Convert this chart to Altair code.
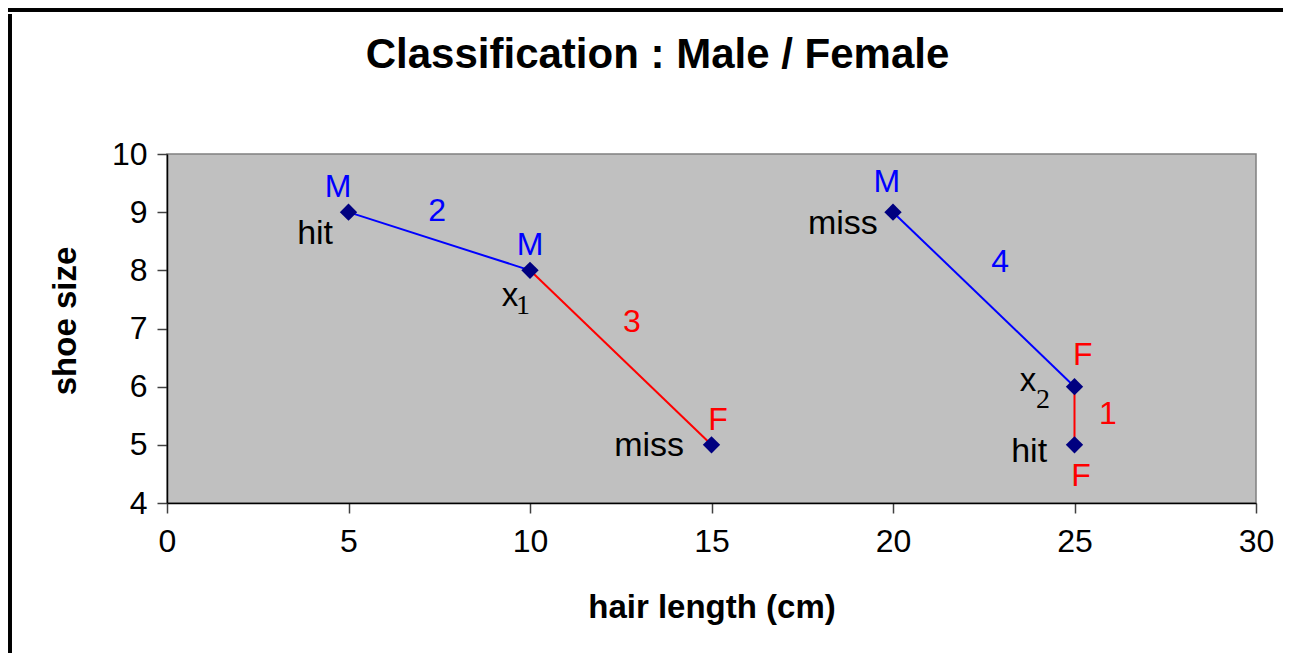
import altair as alt
import pandas as pd

# --- data ---
hair_length = [5, 10, 15, 20, 25, 25]
shoe_size = [9, 8, 5, 9, 6, 5]

seg_x = [5, 10, 20, 25]
seg_y = [9, 8, 9, 6]
seg_x2 = [10, 15, 25, 25]
seg_y2 = [8, 5, 6, 5]
seg_class = ["M", "F", "M", "F"]

class_text = ["M", "M", "F", "M", "F", "F"]
class_x = [4.71, 10.0, 15.18, 19.83, 25.23, 25.18]
class_y = [9.43, 8.44, 5.43, 9.52, 6.54, 4.46]

dist_text = ["2", "3", "4", "1"]
dist_class = ["M", "F", "M", "F"]
dist_x = [7.44, 12.81, 22.95, 25.92]
dist_y = [9.02, 7.11, 8.14, 5.53]

outcome_text = ["hit", "miss", "miss", "hit"]
outcome_x = [4.08, 13.28, 18.62, 23.75]
outcome_y = [8.62, 4.98, 8.80, 4.88]

query_text = ["x", "x"]
query_x = [9.45, 23.72]
query_y = [7.56, 6.10]
sub_text = ["1", "2"]
sub_x = [9.81, 24.13]
sub_y = [7.39, 5.77]

x_ticks = [0, 5, 10, 15, 20, 25, 30]
y_ticks = [4, 5, 6, 7, 8, 9, 10]

pts = pd.DataFrame({"x": hair_length, "y": shoe_size})
segs = pd.DataFrame({"x": seg_x, "y": seg_y, "x2": seg_x2, "y2": seg_y2, "cls": seg_class})
cls_df = pd.DataFrame({"t": class_text, "x": class_x, "y": class_y})
dist_df = pd.DataFrame({"t": dist_text, "x": dist_x, "y": dist_y, "cls": dist_class})
out_df = pd.DataFrame({"t": outcome_text, "x": outcome_x, "y": outcome_y})
q_df = pd.DataFrame({"t": query_text, "x": query_x, "y": query_y})
s_df = pd.DataFrame({"t": sub_text, "x": sub_x, "y": sub_y})

W, H = 1089, 349
FONT = "Liberation Sans"

xs = alt.Scale(domain=[0, 30], nice=False, zero=False)
ys = alt.Scale(domain=[4, 10], nice=False, zero=False)
col = alt.Scale(domain=["M", "F"], range=["#0000FF", "#FF0000"])

x_axis = alt.Axis(
    values=x_ticks, grid=False, title="hair length (cm)",
    domainColor="#000000", domainWidth=1.5, tickColor="#404040", tickWidth=1.5, tickSize=10,
    labelFont=FONT, labelFontSize=32, labelColor="#000000", labelPadding=13,
    labelFlush=False, labelOverlap=False,
    titleFont=FONT, titleFontSize=33, titleFontWeight="bold", titleColor="#000000",
    titleX=W / 2, titleY=104, titleBaseline="middle", titleAlign="center",
)
y_axis = alt.Axis(
    values=y_ticks, grid=False, title="shoe size",
    domainColor="#000000", domainWidth=1.5, tickColor="#404040", tickWidth=1.5, tickSize=10,
    labelFont=FONT, labelFontSize=32, labelColor="#000000", labelPadding=10,
    labelFlush=False, labelOverlap=False,
    titleFont=FONT, titleFontSize=33, titleFontWeight="bold", titleColor="#000000",
    titleAngle=270, titleX=-102, titleY=H / 2 - 8, titleBaseline="middle", titleAlign="center",
)


def X(field="x"):
    return alt.X(f"{field}:Q", scale=xs, axis=x_axis, title="hair length (cm)")


def Y(field="y"):
    return alt.Y(f"{field}:Q", scale=ys, axis=y_axis, title="shoe size")


lines = alt.Chart(segs).mark_rule(strokeWidth=2).encode(
    x=X(), y=Y(), x2="x2:Q", y2="y2:Q",
    color=alt.Color("cls:N", scale=col, legend=None),
)

points = alt.Chart(pts).mark_point(shape="diamond", filled=True, size=300, color="#000080", opacity=1).encode(
    x=X(), y=Y(),
)

cls_labels = alt.Chart(cls_df).mark_text(font=FONT, fontSize=32, align="center", baseline="middle").encode(
    x=X(), y=Y(), text="t:N",
    color=alt.Color("t:N", scale=col, legend=None),
)

dist_labels = alt.Chart(dist_df).mark_text(font=FONT, fontSize=32, align="center", baseline="middle").encode(
    x=X(), y=Y(), text="t:N",
    color=alt.Color("cls:N", scale=col, legend=None),
)

out_labels = alt.Chart(out_df).mark_text(font=FONT, fontSize=34, align="center", baseline="middle", color="#000000").encode(
    x=X(), y=Y(), text="t:N",
)

q_labels = alt.Chart(q_df).mark_text(font=FONT, fontSize=33, align="center", baseline="middle", color="#000000").encode(
    x=X(), y=Y(), text="t:N",
)

s_labels = alt.Chart(s_df).mark_text(font="Liberation Serif", fontSize=28, align="center", baseline="middle", color="#000000").encode(
    x=X(), y=Y(), text="t:N",
)

frame_left = alt.Chart(pts).mark_rule(color="#000000", strokeWidth=3).encode(
    x=alt.value(-157), y=alt.value(-140), y2=alt.value(H + 150),
)
frame_top = alt.Chart(pts).mark_rule(color="#000000", strokeWidth=3).encode(
    x=alt.value(-159), x2=alt.value(W + 27), y=alt.value(-144),
)

chart = alt.layer(
    lines, points, cls_labels, dist_labels, out_labels, q_labels, s_labels, frame_left, frame_top
).properties(
    width=W, height=H,
    background="#FFFFFF",
    title=alt.TitleParams(
        "Classification : Male / Female", font=FONT, fontSize=42, fontWeight="bold",
        color="#000000", anchor="middle", dx=-54, offset=-101.5, baseline="alphabetic",
    ),
    autosize=alt.AutoSizeParams(type="none"),
    padding={"left": 159, "top": 146, "right": 27, "bottom": 150},
).configure_view(
    fill="#C0C0C0", stroke="#808080", strokeWidth=1.5,
)

chart.save("out.html", embed_options={"renderer": "svg", "actions": False})
